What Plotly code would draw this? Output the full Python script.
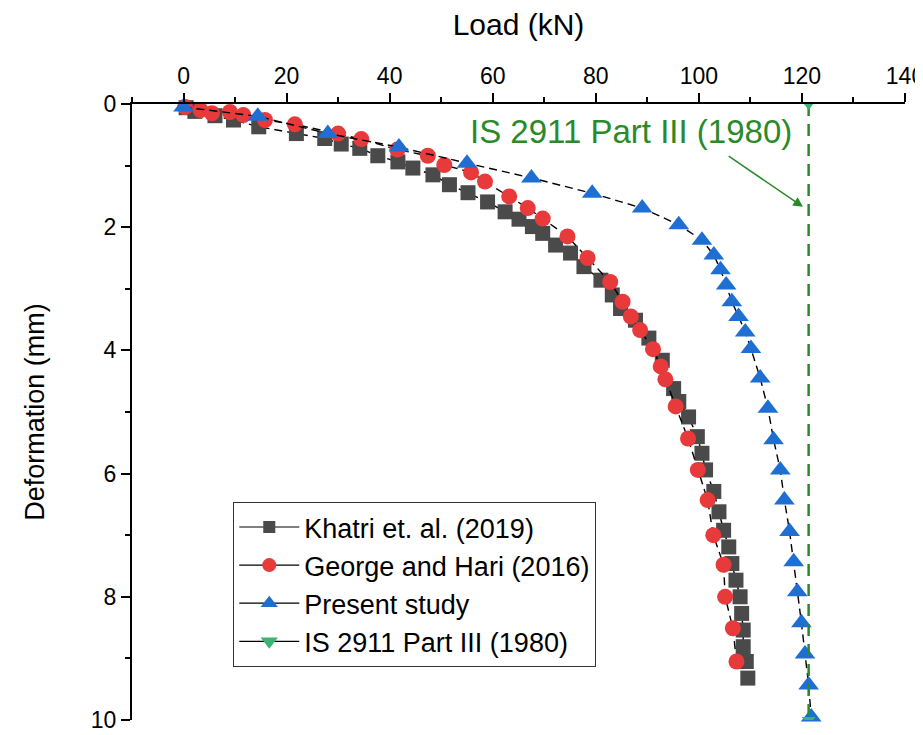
import plotly.graph_objects as go

# ---- data ----
khatri_load = [0.5, 2.2, 6.1, 9.7, 14.6, 21.9, 27.4, 30.6, 34.2, 37.7, 41.6, 44.5, 48.4, 51.6,
               55.2, 59.0, 62.4, 65.1, 67.7, 69.7, 72.2, 75.1, 77.7, 81.0, 83.2, 84.8, 87.7,
               90.3, 92.9, 95.1, 96.1, 98.0, 99.7, 100.6, 101.3, 102.9, 103.9, 104.8, 105.8,
               106.4, 107.2, 108.0, 108.3, 108.6, 108.6, 109.2, 109.5]
khatri_def = [0.06, 0.12, 0.19, 0.26, 0.37, 0.48, 0.56, 0.65, 0.72, 0.84, 0.94, 1.04, 1.15, 1.31,
              1.44, 1.59, 1.75, 1.87, 1.99, 2.10, 2.29, 2.42, 2.64, 2.86, 3.10, 3.32, 3.51,
              3.80, 4.16, 4.62, 4.83, 5.08, 5.40, 5.67, 5.94, 6.29, 6.62, 6.92, 7.19,
              7.46, 7.73, 8.00, 8.27, 8.54, 8.81, 9.05, 9.32]

george_load = [0.3, 3.3, 5.5, 9.0, 11.6, 15.8, 21.6, 30.0, 34.5, 41.5, 47.4, 50.6, 55.8, 58.5,
               63.2, 66.8, 69.7, 74.5, 78.4, 82.8, 85.2, 86.8, 88.6, 91.1, 92.6, 93.5, 95.5,
               97.9, 99.8, 101.7, 102.8, 104.8, 105.1, 106.6, 107.3]
george_def = [0.05, 0.10, 0.15, 0.13, 0.18, 0.26, 0.33, 0.48, 0.57, 0.74, 0.84, 0.99, 1.11, 1.26,
              1.50, 1.69, 1.86, 2.15, 2.50, 2.89, 3.21, 3.45, 3.67, 3.98, 4.26, 4.47, 4.91,
              5.43, 5.94, 6.43, 7.00, 7.48, 8.00, 8.51, 9.05]

present_load = [0.0, 14.4, 28.0, 41.8, 55.0, 67.5, 79.3, 89.0, 96.1, 100.6, 102.9, 104.2, 105.3,
                106.4, 107.7, 109.0, 110.1, 111.9, 113.4, 114.5, 115.8, 116.6, 117.6, 118.4,
                119.1, 119.9, 120.6, 121.3, 121.8]
present_def = [0.05, 0.20, 0.48, 0.70, 0.96, 1.20, 1.45, 1.69, 1.96, 2.21, 2.45, 2.69, 2.94,
               3.21, 3.45, 3.70, 3.97, 4.45, 4.94, 5.45, 5.94, 6.43, 6.94, 7.43,
               7.92, 8.42, 8.93, 9.43, 9.95]

is_load = [121.3, 121.3]
is_def = [0.0, 10.0]

x_ticks = [0, 20, 40, 60, 80, 100, 120, 140]
y_ticks = [0, 2, 4, 6, 8, 10]

names = ["Khatri et. al. (2019)", "George and Hari (2016)", "Present study", "IS 2911 Part III (1980)"]

FONT = "Arial, Liberation Sans, sans-serif"
GRAY = "#4a4a4a"
RED = "#e8393b"
BLUE = "#1f6fd3"
GREEN_M = "#3cb371"
GREEN_L = "#2a8a2a"

fig = go.Figure()

series = [
    (khatri_load, khatri_def, "square", GRAY, 15),
    (george_load, george_def, "circle", RED, 16),
    (present_load, present_def, "triangle-up", BLUE, 18),
]
for (xs, ys, sym, col, sz), nm in zip(series, names[:3]):
    fig.add_trace(go.Scatter(
        x=xs, y=ys, mode="lines+markers", name=nm, showlegend=False,
        line=dict(color="black", width=1.4, dash="8px,5px"),
        marker=dict(symbol=sym, color=col, size=sz, line=dict(width=0)),
        cliponaxis=False,
    ))

fig.add_trace(go.Scatter(
    x=is_load, y=is_def, mode="lines+markers", name=names[3], showlegend=False,
    line=dict(color=GREEN_L, width=2.5, dash="12px,8px"),
    marker=dict(symbol="triangle-down", color=GREEN_M, size=12, line=dict(width=0)),
    cliponaxis=True,
))

# legend entries (solid thin black lines as in the reference legend)
leg = [("square", GRAY, 12), ("circle", RED, 14), ("triangle-up", BLUE, 15), ("triangle-down", GREEN_M, 15)]
for (sym, col, sz), nm in zip(leg, names):
    fig.add_trace(go.Scatter(
        x=[None], y=[None], mode="lines+markers", name=nm,
        line=dict(color="black", width=1.2),
        marker=dict(symbol=sym, color=col, size=sz, line=dict(width=0)),
    ))

fig.add_annotation(x=86.8, y=0.45, text="IS 2911 Part III (1980)", showarrow=False,
                   font=dict(family=FONT, size=33, color=GREEN_L), xref="x", yref="y")
fig.add_annotation(x=120.2, y=1.67, ax=105.5, ay=0.83, axref="x", ayref="y",
                   xref="x", yref="y", text="", showarrow=True,
                   arrowhead=2, arrowsize=1.3, arrowwidth=1.5, arrowcolor=GREEN_L)

# the page body adds an 8px offset, so the figure is sized to end at the window edge
fig.update_layout(
    width=915, height=727,
    margin=dict(l=124, r=18, t=96, b=15),
    paper_bgcolor="white", plot_bgcolor="white",
    font=dict(family=FONT, color="black", size=23),
    legend=dict(x=0.131, y=0.354, xanchor="left", yanchor="top",
                bordercolor="#333333", borderwidth=1, bgcolor="white",
                font=dict(family=FONT, size=27), tracegroupgap=0, itemwidth=60),
    xaxis=dict(
        side="top", range=[-10, 140], tickvals=x_ticks, ticktext=[str(v) for v in x_ticks],
        ticks="outside", ticklen=9, tickwidth=2, tickcolor="black",
        minor=dict(dtick=10, tick0=0, ticks="outside", ticklen=5, tickwidth=2, tickcolor="black"),
        showline=True, linecolor="black", linewidth=2, showgrid=False, zeroline=False,
        automargin=False, ticklabeloverflow="allow",
        tickfont=dict(size=23), title=dict(text="Load (kN)", font=dict(size=30), standoff=20),
    ),
    yaxis=dict(
        range=[10, 0], tickvals=y_ticks, ticktext=[str(v) for v in y_ticks],
        ticks="outside", ticklen=9, tickwidth=2, tickcolor="black",
        minor=dict(dtick=1, tick0=0, ticks="outside", ticklen=5, tickwidth=2, tickcolor="black"),
        showline=True, linecolor="black", linewidth=2, showgrid=False, zeroline=False,
        automargin=False, ticklabeloverflow="allow",
        tickfont=dict(size=23), title=dict(text="Deformation (mm)", font=dict(size=27), standoff=38),
    ),
)

fig.write_html("out.html")
